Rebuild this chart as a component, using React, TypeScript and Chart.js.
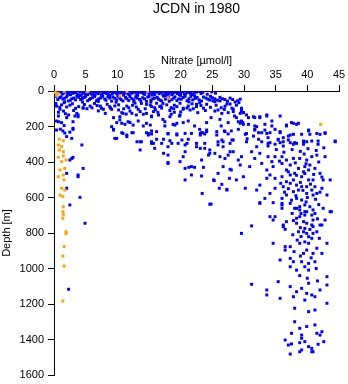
import React, { useEffect, useRef } from 'react';
import { Chart, registerables } from 'chart.js';

Chart.register(...registerables);

const TITLE = 'JCDN in 1980';
const X_TITLE = 'Nitrate [µmol/l]';
const Y_TITLE = 'Depth [m]';
const X_TICKS = [0, 5, 10, 15, 20, 25, 30, 35, 40, 45];
const Y_TICKS = [0, 200, 400, 600, 800, 1000, 1200, 1400, 1600];

// [nitrate, depth]
const orangePoints: [number, number][] = [
  [0.2, 9], [0.5, 19], [0.4, 25], [0.6, 14], [1.6, 2], [5.2, 2], [5.4, 1], [10.4, 28], [11.5, 2], [14.8, 2], [18.0, 38], [42.1, 188],
  [0.84, 272], [1.47, 280], [0.68, 304], [1.2, 313], [0.84, 332], [1.47, 342], [0.68, 374], [1.47, 366], [1.9, 389], [1.2, 398],
  [0.95, 445], [1.7, 436], [0.68, 483], [1.47, 473], [1.58, 501], [1.2, 548], [1.7, 558], [0.95, 586], [1.4, 595], [1.47, 652],
  [1.4, 680], [1.47, 695], [1.4, 717], [1.9, 793], [1.9, 803], [1.6, 877], [1.4, 930], [1.6, 986], [1.4, 1183],
];

const blueSurface: [number, number][] = [
  [0.2, 3], [0.6, 8], [1.1, 2], [1.5, 12], [1.9, 5], [2.4, 15], [2.8, 3], [3.3, 9], [3.7, 18], [4.1, 4], [4.6, 11], [5.0, 2],
  [5.5, 7], [5.9, 16], [6.3, 4], [6.8, 10], [7.2, 2], [7.7, 13], [8.1, 6], [8.6, 19], [9.0, 3], [9.4, 9], [9.9, 14], [10.3, 5],
  [10.8, 2], [11.2, 11], [11.7, 17], [12.1, 4], [12.5, 8], [13.0, 13], [13.4, 3], [13.9, 9], [14.3, 19], [14.8, 6], [15.2, 2],
  [15.7, 12], [16.1, 7], [16.6, 15], [17.0, 3], [17.5, 10], [17.9, 18], [18.4, 5], [18.8, 13], [19.3, 8], [19.8, 21], [20.3, 4],
  [20.8, 15], [21.3, 9], [21.9, 20], [22.5, 6], [23.2, 14], [0.4, 22], [2.1, 24], [4.3, 25], [6.5, 23], [8.8, 26], [11.0, 24],
  [13.2, 25], [15.5, 23], [17.7, 26], [20.0, 25], [22.2, 27],
  [0.8, 5], [1.3, 17], [2.2, 9], [2.6, 21], [3.0, 13], [3.5, 2], [3.9, 22], [4.4, 7], [4.9, 16], [5.3, 21], [5.7, 11], [6.1, 19],
  [6.6, 6], [7.0, 15], [7.5, 21], [7.9, 9], [8.3, 14], [8.8, 3], [9.2, 17], [9.7, 6], [10.1, 21], [10.5, 11], [11.0, 16], [11.5, 6],
  [11.9, 21], [12.3, 13], [12.8, 2], [13.2, 18], [13.6, 7], [14.1, 14], [14.5, 2], [15.0, 16], [15.4, 8], [15.9, 20], [16.3, 3],
  [16.8, 10], [17.2, 21], [17.7, 6], [18.1, 15], [18.6, 21], [19.0, 3], [19.5, 14], [20.0, 9], [20.6, 18], [21.1, 3], [21.6, 14],
  [22.1, 10], [22.8, 2], [23.5, 8], [24.2, 18], [24.9, 5], [25.5, 12],
];

const blueShallow: [number, number][] = [
  [0.3, 30], [0.9, 38], [1.4, 45], [2.0, 33], [2.6, 52], [3.1, 40], [3.6, 30], [4.2, 48], [4.8, 36], [5.3, 55], [5.8, 42], [6.4, 31],
  [6.9, 50], [7.4, 38], [8.0, 45], [8.5, 33], [9.1, 57], [9.6, 41], [10.1, 30], [10.6, 49], [11.3, 36], [11.8, 54], [12.3, 43],
  [12.9, 32], [13.5, 47], [14.0, 38], [14.6, 58], [15.0, 31], [15.6, 44], [16.3, 36], [16.8, 52], [17.3, 29], [17.9, 40], [18.6, 49],
  [19.1, 33], [19.7, 45], [20.4, 37], [21.0, 55], [21.6, 30], [22.3, 42], [22.9, 50], [23.6, 34], [24.3, 46], [25.0, 38], [25.8, 52],
  [26.6, 44], [27.4, 58], [28.2, 48], [29.0, 55], [1.7, 60], [4.5, 62], [7.0, 59], [9.8, 63], [12.6, 60], [15.3, 62], [18.2, 58],
  [21.3, 61],
  [0.6, 48], [1.1, 33], [1.7, 40], [2.3, 56], [2.8, 44], [3.4, 50], [3.9, 36], [4.5, 42], [5.0, 30], [5.6, 48], [6.1, 37], [6.7, 55],
  [7.1, 44], [7.7, 30], [8.2, 52], [8.8, 40], [9.3, 34], [9.9, 50], [10.4, 40], [10.9, 56], [11.5, 44], [12.0, 32], [12.6, 50],
  [13.1, 40], [13.7, 56], [14.3, 44], [14.8, 34], [15.3, 52], [15.9, 40], [16.5, 46], [17.0, 56], [17.6, 46], [18.1, 34], [18.9, 40],
  [19.4, 54], [20.1, 46], [20.7, 30], [21.3, 44], [21.9, 50], [22.6, 36], [23.3, 56], [24.0, 40], [24.7, 30], [25.4, 44], [26.2, 36],
  [27.0, 48], [27.8, 40], [28.6, 62], [29.4, 46],
  [0.4, 85], [0.95, 103], [1.5, 113], [0.3, 70], [1.2, 78], [2.0, 90], [2.9, 72], [3.4, 98], [4.6, 94], [5.7, 85], [6.4, 70], [7.3, 85],
  [7.8, 103], [9.1, 103], [8.4, 75], [10.2, 78], [10.7, 122], [11.5, 85], [12.0, 113], [13.3, 103], [14.1, 131], [14.6, 75], [12.8, 68],
  [15.9, 94], [16.9, 85], [18.5, 94], [16.2, 69], [15.2, 79], [16.7, 88], [19.9, 69], [20.4, 103], [21.2, 85], [22.5, 75], [22.7, 122],
  [22.5, 88], [20.4, 97], [21.5, 107], [23.6, 97], [24.1, 75], [24.6, 51], [25.4, 60], [25.1, 56], [26.2, 56], [25.9, 107], [26.4, 94],
  [26.5, 126], [27.3, 73], [27.8, 73], [28.1, 97], [28.3, 103], [28.3, 116], [27.5, 122], [29.4, 126], [29.6, 97], [29.6, 113],
  [29.9, 122], [25.4, 113], [18.3, 110], [17.2, 70], [19.0, 80], [23.0, 66], [8.1, 126], [8.8, 88], [10.2, 107], [10.9, 126],
  [12.3, 126], [13.6, 116], [14.6, 126], [15.7, 116], [7.5, 97], [3.6, 126], [3.8, 135], [2.3, 135], [0.7, 120], [1.8, 128],
  [0.9, 92], [1.6, 66], [2.5, 80], [3.1, 110], [3.9, 88], [4.8, 76], [5.2, 100], [6.0, 95], [6.8, 82], [7.0, 112], [8.9, 96],
  [9.6, 84], [11.0, 100], [11.8, 94], [12.4, 80], [13.0, 90], [13.8, 70], [14.4, 100], [15.4, 88], [16.0, 106], [17.0, 96],
  [17.8, 78], [18.9, 100], [19.4, 88], [20.0, 118], [21.0, 96], [21.8, 72], [22.0, 100], [23.2, 82], [23.9, 110], [24.7, 92],
  [25.6, 80], [26.9, 104], [27.0, 86], [28.8, 80], [29.2, 66], [19.0, 120], [16.4, 120], [13.0, 135], [11.4, 130],
];

const blueUpper: [number, number][] = [
  [0.7, 141], [0.4, 169], [1.2, 178], [2.0, 150], [3.3, 141], [1.0, 215], [1.4, 225], [1.7, 237], [0.4, 220], [2.5, 232], [3.0, 216],
  [3.0, 210], [2.0, 257], [2.8, 267], [3.8, 145], [3.0, 173], [4.4, 304], [0.7, 173], [1.6, 195], [9.4, 150], [9.9, 178], [9.4, 216],
  [11.2, 188], [12.0, 178], [12.5, 235], [13.3, 169], [14.1, 197], [10.7, 235], [10.4, 145], [11.7, 173], [10.4, 163], [10.7, 182],
  [12.5, 192], [14.6, 182], [14.9, 239], [16.2, 229], [15.4, 295], [13.6, 286], [13.6, 332], [12.3, 235], [11.5, 248], [9.9, 267],
  [9.4, 220], [9.1, 201], [9.6, 267], [10.9, 239], [11.5, 257], [13.1, 286], [13.8, 286], [14.6, 235], [14.9, 248], [15.4, 242],
  [16.2, 272], [15.7, 295], [15.9, 323], [17.3, 272], [18.0, 242], [18.3, 280], [18.6, 295], [19.4, 242], [19.6, 295], [20.2, 276],
  [20.7, 304], [21.2, 272], [15.4, 141], [17.2, 160], [18.5, 131], [19.8, 141], [17.5, 197], [15.4, 225], [18.8, 188], [20.4, 178],
  [21.2, 169], [22.2, 197], [23.0, 216], [23.5, 235], [24.1, 178], [24.8, 150], [26.2, 160], [27.5, 178], [26.4, 197], [26.9, 225],
  [28.0, 225], [29.1, 216], [29.8, 178], [28.5, 141], [28.8, 150], [15.4, 145], [16.5, 135], [18.3, 145], [19.9, 135], [17.5, 173],
  [19.4, 182], [19.1, 192], [15.2, 192], [18.0, 239], [19.4, 248], [20.7, 239], [21.7, 239], [23.1, 239], [24.1, 220], [25.7, 229],
  [26.5, 276], [28.1, 276], [29.4, 182], [29.1, 173], [22.5, 295], [22.5, 314], [23.1, 248], [23.3, 235], [23.8, 242], [24.1, 229],
  [23.8, 295], [25.7, 248], [27.0, 229], [27.5, 242], [27.8, 295], [28.3, 276], [17.0, 295], [18.0, 314], [21.0, 295], [15.4, 286],
  [25.9, 286], [26.7, 286], [25.9, 304], [26.7, 314], [4.6, 97], [23.1, 323], [23.8, 323],
];

const blueLeftDeep: [number, number][] = [
  [2.8, 380], [2.5, 389], [3.0, 374], [2.0, 464], [3.8, 483], [4.6, 436], [3.8, 473], [2.0, 548], [4.1, 599], [2.5, 642], [4.9, 745],
  [2.3, 1117],
];

const blueMiddle: [number, number][] = [
  [17.3, 351], [18.0, 361], [18.0, 403], [19.9, 398], [20.4, 370], [20.7, 342], [20.7, 436], [21.3, 430], [22.2, 430], [21.7, 473],
  [24.6, 332], [24.6, 351], [23.3, 389], [25.4, 351], [27.5, 361], [27.0, 380], [26.7, 426], [27.8, 441], [25.9, 464], [25.3, 505],
  [26.5, 526], [26.1, 548], [27.3, 554], [27.7, 492], [23.3, 479], [23.4, 577], [24.8, 637], [28.3, 342], [28.0, 445], [23.6, 430],
  [18.0, 408], [21.7, 426], [24.4, 361], [26.2, 370], [27.8, 342], [29.1, 389], [29.6, 370], [29.4, 417], [20.7, 501], [25.2, 501],
  [27.3, 558], [30.9, 426], [29.9, 483], [28.8, 501],
];

const blueRight: [number, number][] = [
  [29.6, 103], [29.9, 122], [29.6, 169], [29.9, 188], [30.2, 244], [30.5, 269], [30.7, 150], [31.7, 150], [32.5, 150], [30.7, 188],
  [31.7, 197], [31.7, 216], [32.3, 235], [31.5, 254], [32.3, 272], [32.8, 235], [33.3, 188], [33.6, 141], [34.4, 169], [34.4, 197],
  [34.1, 235], [33.8, 263], [34.1, 291], [34.9, 216], [35.7, 141], [35.7, 235], [35.4, 272], [36.2, 263], [35.7, 291], [36.7, 197],
  [37.0, 254], [37.3, 291], [37.8, 244], [37.5, 178], [38.3, 188], [38.0, 291], [39.1, 244], [39.4, 282], [40.2, 225], [40.4, 244],
  [40.7, 282], [41.7, 282], [42.0, 244], [42.8, 235], [41.7, 300], [44.4, 282], [39.4, 300], [37.8, 300], [36.2, 310], [34.9, 300],
  [33.8, 310], [30.4, 135], [31.5, 145], [32.5, 145], [33.6, 135], [30.4, 239], [32.0, 201], [31.7, 220], [33.6, 239], [33.3, 220],
  [35.7, 229], [36.7, 192], [37.3, 248], [37.8, 182], [38.6, 182], [39.4, 286], [40.2, 220], [41.5, 239], [42.8, 239], [44.4, 286],
  [30.4, 286], [32.0, 314], [32.8, 286], [33.8, 295], [35.4, 276], [36.2, 286], [37.0, 276], [38.3, 295], [39.9, 286],
  [31.2, 342], [31.7, 380], [32.5, 351], [33.8, 370], [34.6, 426], [34.9, 370], [36.0, 370], [36.7, 389], [37.8, 380], [38.8, 380],
  [39.9, 389], [40.7, 370], [41.5, 361], [42.8, 370], [30.2, 548], [32.0, 558], [32.5, 530], [33.6, 492], [34.1, 473], [34.9, 548],
  [36.7, 511], [37.3, 473], [37.8, 501], [38.3, 530], [38.6, 558], [39.4, 455], [39.6, 426], [40.2, 501], [40.7, 558], [40.9, 586],
  [42.3, 548], [43.6, 501], [43.1, 586], [32.5, 633], [33.3, 605], [34.1, 577], [36.0, 605], [36.7, 586], [38.3, 605], [39.1, 614],
  [39.6, 642], [38.8, 670], [39.9, 680], [40.4, 652], [38.0, 661], [36.0, 642],
  [36.0, 408], [37.3, 417], [38.6, 436], [40.2, 445], [41.2, 436], [36.7, 445], [38.0, 464], [39.1, 483], [40.9, 501], [37.3, 520],
  [39.1, 539], [39.9, 539], [41.2, 539], [36.2, 539], [37.8, 567], [39.9, 577], [41.5, 577], [34.9, 492], [36.0, 483], [33.6, 445],
  [34.4, 398], [32.8, 408], [40.4, 417], [42.0, 464], [42.5, 501],
];

const blueColumn: [number, number][] = [
  [35.1, 330], [36.3, 345], [37.6, 330], [38.9, 340], [40.1, 325], [41.4, 335], [42.6, 320], [39.5, 355], [35.6, 395], [38.1, 405],
  [39.8, 410], [41.8, 400], [37.0, 455], [38.3, 475], [39.6, 465], [41.0, 470], [42.3, 485], [35.8, 520], [38.9, 515], [40.5, 525],
  [37.0, 550], [39.3, 560], [42.0, 570], [36.4, 570], [38.2, 590], [40.0, 600], [41.3, 610], [37.5, 615], [39.8, 625], [41.8, 640],
  [37.6, 690], [39.0, 690], [41.2, 690], [37.8, 730], [39.9, 745], [41.6, 720], [38.9, 770], [40.4, 780], [37.7, 810], [39.0, 820],
  [41.9, 830], [38.4, 840], [39.6, 850], [37.9, 905], [38.9, 930], [40.6, 940], [39.6, 990], [41.4, 1000], [38.8, 1040], [40.0, 1055],
  [41.6, 1070],
];

const blueDeep: [number, number][] = [
  [24.6, 638], [31.2, 760], [34.1, 708], [34.9, 708], [36.7, 736], [38.3, 717], [39.4, 736], [40.9, 727], [42.3, 755], [42.5, 661],
  [43.8, 680], [36.2, 764], [38.3, 745], [39.6, 774], [40.9, 764], [29.6, 802], [31.2, 1089], [34.6, 727], [36.2, 755], [36.5, 779],
  [38.6, 793], [39.4, 793], [39.9, 802], [40.9, 802], [40.7, 830], [41.5, 793], [42.8, 727], [43.6, 680], [39.6, 699], [38.8, 652],
  [37.3, 633], [36.0, 633], [32.5, 629], [34.6, 629], [36.0, 661], [38.3, 661], [39.6, 680], [40.9, 670], [38.8, 708], [40.7, 699],
  [40.7, 755], [42.0, 755], [40.2, 821], [34.6, 858], [36.5, 877], [36.5, 896], [37.3, 877], [38.8, 858], [39.9, 896], [40.2, 858],
  [41.5, 886], [39.4, 915], [40.9, 915], [42.3, 915], [43.1, 858], [35.7, 952], [37.3, 943], [37.8, 962], [39.1, 962], [40.2, 971],
  [41.2, 962], [37.3, 990], [38.3, 1009], [40.2, 1009], [43.1, 1046], [35.4, 1074], [33.6, 1121], [33.6, 1149], [35.7, 1168],
  [37.3, 1102], [38.3, 1131], [39.1, 1112], [39.9, 1140], [40.7, 1149], [41.2, 1159], [42.0, 1121], [39.6, 1178], [37.8, 1159],
  [40.2, 1083], [43.1, 1093], [43.1, 1196], [38.0, 1224], [40.2, 1243], [41.2, 1234], [38.0, 1300], [41.2, 1318], [38.8, 1337],
  [39.9, 1327], [37.5, 1365], [39.1, 1375], [39.1, 1393], [41.5, 1365], [42.0, 1375], [42.3, 1356], [36.5, 1403], [37.0, 1431],
  [37.5, 1425], [38.8, 1418], [39.6, 1412], [40.2, 1440], [38.8, 1469], [39.1, 1459], [40.7, 1450], [40.9, 1469], [41.7, 1427],
  [42.6, 1412], [37.3, 1482], [40.7, 1469],
];

const FONT = '"Liberation Sans", Arial, Helvetica, sans-serif';

const toXY = (arr: [number, number][]) => arr.map(([x, y]) => ({ x, y }));

export default function App() {
  const ref = useRef<HTMLCanvasElement | null>(null);

  useEffect(() => {
    document.body.style.margin = '0';
    const canvas = ref.current;
    if (!canvas) return;

    const titlePlugin = {
      id: 'mainTitle',
      afterDraw(chart: any) {
        const { ctx, chartArea } = chart;
        ctx.save();
        ctx.fillStyle = '#000';
        ctx.font = `14px ${FONT}`;
        ctx.textAlign = 'center';
        ctx.textBaseline = 'middle';
        ctx.fillText(TITLE, (chartArea.left + chartArea.right) / 2, 9);
        ctx.restore();
      },
    };

    const blueAll = [
      ...blueSurface, ...blueShallow, ...blueUpper, ...blueLeftDeep, ...blueMiddle, ...blueRight, ...blueColumn, ...blueDeep,
    ];

    const chart = new Chart(canvas, {
      type: 'scatter',
      data: {
        datasets: [
          {
            label: 'orange',
            data: toXY(orangePoints),
            backgroundColor: '#ffa500',
            pointStyle: 'rect',
            pointRadius: 2.1,
            borderWidth: 0,
          },
          {
            label: 'blue',
            data: toXY(blueAll),
            backgroundColor: '#0000ff',
            pointStyle: 'rect',
            pointRadius: 2.1,
            borderWidth: 0,
          },
        ],
      },
      options: {
        animation: false,
        responsive: false,
        events: [],
        layout: { padding: { top: 0, left: 0, right: 9, bottom: 9 } },
        plugins: { legend: { display: false }, tooltip: { enabled: false }, title: { display: false } },
        scales: {
          x: {
            type: 'linear',
            position: 'top',
            min: 0,
            max: 45,
            afterBuildTicks: (s: any) => {
              s.ticks = X_TICKS.map((v) => ({ value: v }));
            },
            afterFit: (s: any) => {
              s.height = 91;
              s.paddingLeft = 0;
              s.paddingRight = 0;
            },
            ticks: { color: '#000', font: { family: FONT, size: 11 }, padding: 3, maxRotation: 0, autoSkip: false, callback: (v: any) => String(v) },
            grid: { drawOnChartArea: false, drawTicks: true, tickLength: 6, color: '#000' },
            border: { display: true, color: '#000', width: 1 },
            title: { display: true, text: X_TITLE, color: '#000', font: { family: FONT, size: 11 }, padding: { top: 54, bottom: 0 } },
          },
          y: {
            type: 'linear',
            reverse: true,
            min: 0,
            max: 1600,
            afterBuildTicks: (s: any) => {
              s.ticks = Y_TICKS.map((v) => ({ value: v }));
            },
            afterFit: (s: any) => {
              s.width = 54;
              s.paddingTop = 0;
              s.paddingBottom = 0;
            },
            ticks: { color: '#000', font: { family: FONT, size: 11 }, padding: 4, autoSkip: false, callback: (v: any) => String(v) },
            grid: { drawOnChartArea: false, drawTicks: true, tickLength: 6, color: '#000' },
            border: { display: true, color: '#000', width: 1 },
            title: { display: true, text: Y_TITLE, color: '#000', font: { family: FONT, size: 11 }, padding: { top: 0, bottom: 0 } },
          },
        },
      },
      plugins: [titlePlugin],
    } as any);

    return () => chart.destroy();
  }, []);

  return <canvas ref={ref} width={348} height={384} style={{ display: 'block', width: 348, height: 384 }} />;
}
